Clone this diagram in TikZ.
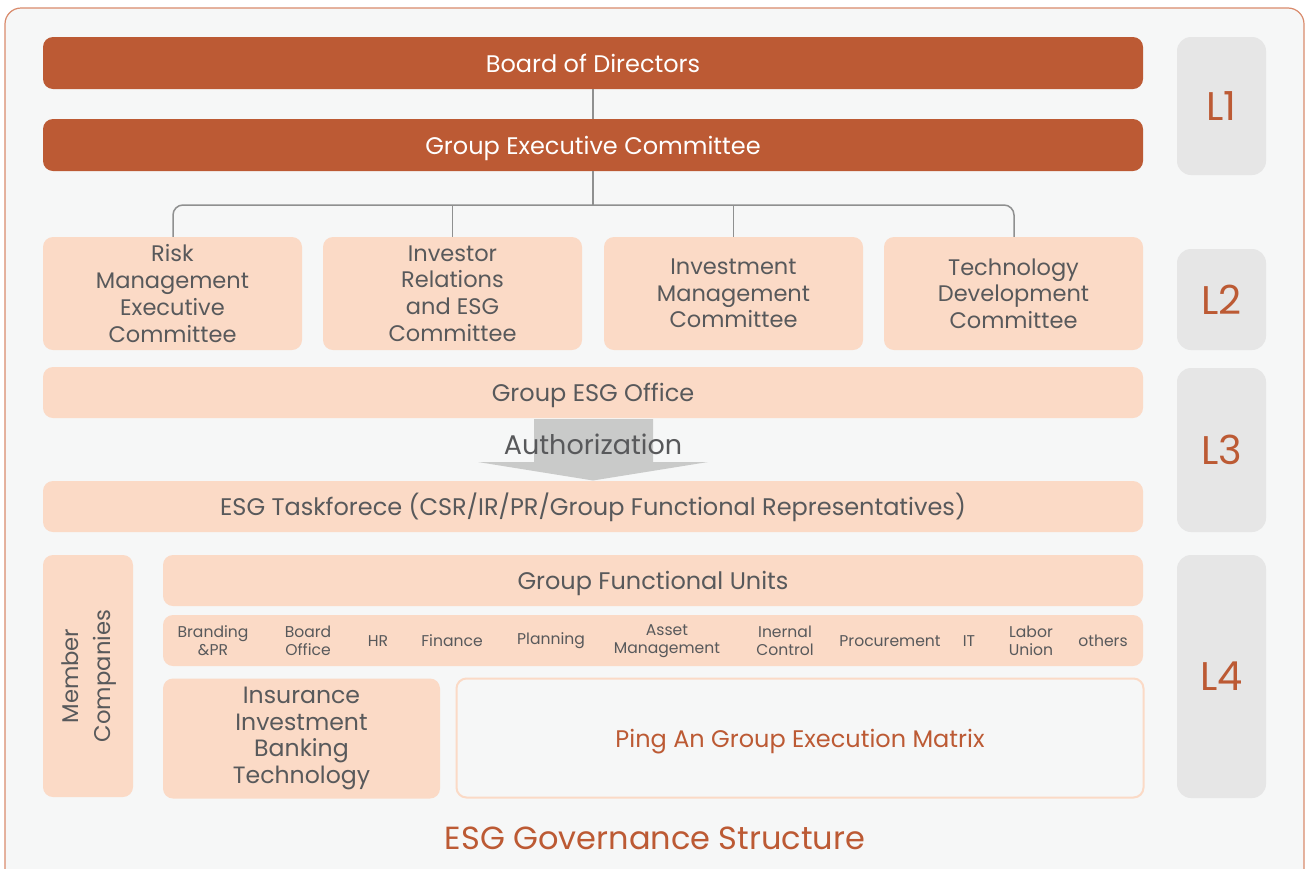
\documentclass[tikz,border=0pt]{standalone}
\usepackage{fontspec}
\setmainfont{Poppins}
\definecolor{rust}{HTML}{BC5A34}
\definecolor{peach}{HTML}{FBDAC6}
\definecolor{bgc}{HTML}{F6F7F7}
\definecolor{frame}{HTML}{D98B6C}
\definecolor{txt}{HTML}{58595B}
\definecolor{lbox}{HTML}{E6E6E6}
\definecolor{conn}{HTML}{8F9090}
\definecolor{arrowc}{HTML}{C9CAC9}
\tikzset{
  box/.style={rounded corners=10pt, inner sep=0pt, align=center, font=\fontsize{24}{27}\selectfont, text=txt},
  oneline/.style={text height=18.5pt, text depth=0.5pt},
  topbox/.style={box, oneline, fill=rust, text=white},
  pbox/.style={box, fill=peach},
  twobox/.style={pbox, font=\fontsize{22.5}{26.7}\selectfont},
  lvl/.style={rounded corners=14pt, fill=lbox, inner sep=0pt, text=rust, font=\fontsize{40}{44}\selectfont},
  small/.style={align=center, text=txt, font=\fontsize{15.6}{18}\selectfont, inner sep=0pt},
  conline/.style={draw=conn, line width=1.5pt}
}
\begin{document}
\begin{tikzpicture}[x=1pt,y=-1pt]
\useasboundingbox (0,0) rectangle (1308,868);
\draw[fill=bgc, draw=frame, line width=1.2pt, rounded corners=16pt] (5,8) rectangle (1304,890);
% L1
\node[topbox, minimum width=1100, minimum height=52] (bod) at (593,63) {Board of Directors};
\node[topbox, minimum width=1100, minimum height=52] (gec) at (593,145) {Group Executive Committee};
\draw[conline] (bod.south) -- (gec.north);
% L2 boxes
\node[twobox, minimum width=259, minimum height=113] (rm) at (172.5,293.5) {Risk\\Management\\Executive\\Committee};
\node[twobox, minimum width=259, minimum height=113] (ir) at (452.5,293.5) {Investor\\Relations\\and ESG\\Committee};
\node[twobox, minimum width=259, minimum height=113] (im) at (733.5,293.5) {Investment\\Management\\Committee};
\node[twobox, minimum width=259, minimum height=113] (td) at (1013.5,293.5) {Technology\\Development\\Committee};
\coordinate (hub) at (593,205);
\draw[conline] (gec.south) -- (hub);
\draw[conline, rounded corners=10pt] (rm.north -| 173,0) -- (173,205) -- (1014,205) -- (td.north -| 1014,0);
\draw[conline] (hub -| ir.north) -- (ir.north);
\draw[conline] (hub -| im.north) -- (im.north);
% L3
\node[pbox, oneline, minimum width=1100, minimum height=51] (eso) at (593,392.5) {Group ESG Office};
\node[pbox, oneline, minimum width=1100, minimum height=51] (tf) at (593,506.5) {ESG Taskforece (CSR/IR/PR/Group Functional Representatives)};
\fill[arrowc] (534,419) -- (653,419) -- (653,462) -- (708,462) -- (593,480.5) -- (478,462) -- (534,462) -- cycle;
\node[text=txt, font=\fontsize{27}{30}\selectfont, inner sep=0pt] (auth) at (593,444) {Authorization};
% L4
\node[pbox, minimum width=90, minimum height=242] (mc) at (88,676) {};
\node[rotate=90, align=center, text=txt, font=\fontsize{22.7}{31.5}\selectfont, inner sep=0pt] (mct) at ([xshift=1pt]mc.center) {Member\\Companies};
\node[pbox, oneline, minimum width=980, minimum height=51] (gfu) at (653,580.5) {Group Functional Units};
\node[pbox, minimum width=980, minimum height=51] (row) at (653,640.5) {};
\node[small] (u1) at (213,641) {Branding\\\&PR};
\node[small] (u2) at (308,641) {Board\\Office};
\node[small] (u3) at (378,641) {HR};
\node[small] (u4) at (452,641) {Finance};
\node[small] (u5) at (551,641) {Planning};
\node[small] (u6) at (667,641) {Asset\\Management};
\node[small] (u7) at (785,641) {Inernal\\Control};
\node[small] (u8) at (890,641) {Procurement};
\node[small] (u9) at (969,641) {IT};
\node[small] (u10) at (1031,641) {Labor\\Union};
\node[small] (u11) at (1103,641) {others};
\node[twobox, font=\fontsize{23.6}{26.7}\selectfont, minimum width=277, minimum height=120] (ins) at (301.5,738.5) {Insurance\\Investment\\Banking\\Technology};
\node[box, oneline, draw=peach, line width=2pt, minimum width=687, minimum height=119, text=rust] (pa) at (800,738) {Ping An Group Execution Matrix};
% levels
\node[lvl, minimum width=89, minimum height=138] (l1) at (1221.5,106) {L1};
\node[lvl, minimum width=89, minimum height=101] (l2) at (1221.5,299.5) {L2};
\node[lvl, minimum width=89, minimum height=164] (l3) at (1221.5,450) {L3};
\node[lvl, minimum width=89, minimum height=243] (l4) at (1221.5,676.5) {L4};
\node[text=rust, font=\fontsize{32}{36}\selectfont, inner sep=0pt] (title) at (655,838.5) {ESG Governance Structure};
\end{tikzpicture}
\end{document}
